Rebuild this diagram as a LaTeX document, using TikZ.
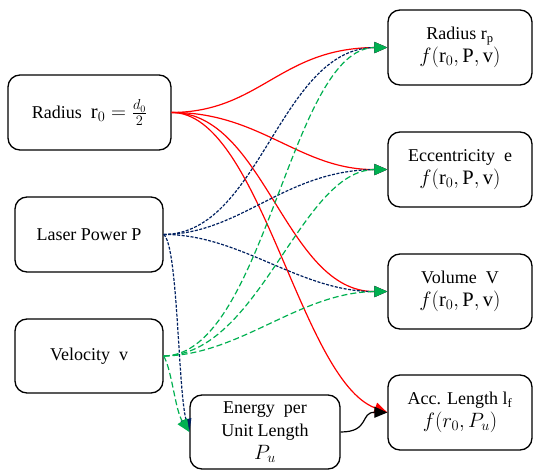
\documentclass[tikz,border=0pt]{standalone}
\usepackage{fontspec}
\setmainfont{Liberation Serif}
\usetikzlibrary{arrows.meta}
\definecolor{navy}{HTML}{002060}
\definecolor{grn}{HTML}{00B050}
\newcommand{\mathbigger}[1]{{\fontsize{20.5}{22.5}\selectfont$#1$}}
\begin{document}
\begin{tikzpicture}[x=1pt,y=-1pt,
 box/.style={draw=black,line width=1.3pt,rounded corners=12pt,align=center,inner sep=0pt,font=\fontsize{18}{23}\selectfont},
 tip/.style={-{Triangle[length=13pt,width=11pt]}},
 redl/.style={draw=red,line width=1.2pt,tip},
 bluel/.style={draw=navy,line width=1.2pt,dash pattern=on 3pt off 1.5pt,tip},
 greenl/.style={draw=grn,line width=1.2pt,dash pattern=on 6pt off 3pt,tip},
 blackl/.style={draw=black,line width=1.2pt,tip}]
\useasboundingbox (0,0) rectangle (533,471);
\node[box,minimum width=163pt,minimum height=75pt] (r0) at (89.5,112.5) {Radius\ \ \mathbigger{\mathrm{r}_0=\frac{d_0}{2}}};
\node[box,minimum width=148pt,minimum height=75pt] (lp) at (89,234.5) {Laser Power P};
\node[box,minimum width=148pt,minimum height=74pt] (v) at (89,356) {Velocity\ \ v};
\node[box,minimum width=150pt,minimum height=74pt] (en) at (265,432) {Energy\ \ per\\Unit Length\\\mathbigger{P_u}};
\node[box,minimum width=144pt,minimum height=75pt] (rp) at (460,47.5) {Radius r$_\mathrm{p}$\\\mathbigger{f(\mathrm{r}_0,\mathrm{P},\mathrm{v})}};
\node[box,minimum width=144pt,minimum height=75pt] (ec) at (460,169.5) {Eccentricity\ \ e\\\mathbigger{f(\mathrm{r}_0,\mathrm{P},\mathrm{v})}};
\node[box,minimum width=144pt,minimum height=75pt] (vo) at (460,291.5) {Volume\ \ V\\\mathbigger{f(\mathrm{r}_0,\mathrm{P},\mathrm{v})}};
\node[box,minimum width=144pt,minimum height=75pt] (al) at (460,412.5) {Acc. Length l$_\mathrm{f}$\\\mathbigger{f(r_0,P_u)}};
\draw[redl] (r0.east) .. controls (260,112) and (280,48) .. (rp.west);
\draw[redl] (r0.east) .. controls (260,112) and (300,170) .. (ec.west);
\draw[redl] (r0.east) .. controls (265,112) and (285,292) .. (vo.west);
\draw[redl] (r0.east) .. controls (260,112) and (300,380) .. (al.west);
\draw[bluel] (lp.east) .. controls (260,234) and (280,48) .. (rp.west);
\draw[bluel] (lp.east) .. controls (240,234) and (285,170) .. (ec.west);
\draw[bluel] (lp.east) .. controls (240,234) and (300,292) .. (vo.west);
\draw[bluel] (lp.east) .. controls (178,245) and (178,390) .. (en.west);
\draw[greenl] (v.east) .. controls (265,355) and (290,48) .. (rp.west);
\draw[greenl] (v.east) .. controls (260,355) and (300,170) .. (ec.west);
\draw[greenl] (v.east) .. controls (240,355) and (300,292) .. (vo.west);
\draw[greenl] (v.east) .. controls (172,370) and (175,410) .. (en.west);
\draw[blackl] (en.east) .. controls (370,432) and (360,412) .. (al.west);
\end{tikzpicture}
\end{document}
